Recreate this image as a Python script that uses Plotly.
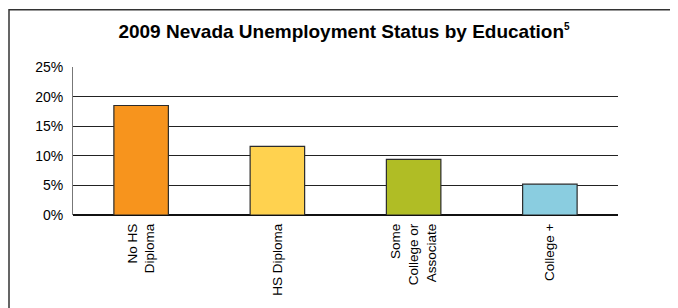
import plotly.graph_objects as go

categories = ["No HS<br>Diploma", "HS Diploma", "Some<br>College or<br>Associate", "College +"]
values = [18.5, 11.6, 9.4, 5.2]
colors = ["#F7941D", "#FFD24F", "#B0BD25", "#8ACDE0"]
tick_vals = [0, 5, 10, 15, 20, 25]
tick_text = ["0%", "5%", "10%", "15%", "20%", "25%"]

W, H = 670, 300
L, R, T, B = 65, 60, 59, 91
pw, ph = W - L - R, H - T - B

fig = go.Figure()
fig.add_trace(go.Bar(
    x=categories, y=values,
    marker=dict(color=colors, line=dict(color="#2b2b2b", width=1.2)),
    width=0.4,
))

fig.update_layout(
    width=W, height=H,
    margin=dict(l=L, r=R, t=T, b=B),
    paper_bgcolor="white", plot_bgcolor="white",
    font=dict(family="Liberation Sans, Arial, sans-serif", color="black"),
    showlegend=False,
    title=dict(
        text="<b>2009 Nevada Unemployment Status by Education<sup><span style='font-size:10px'>5</span></sup></b>",
        x=(344 - 8) / W, xanchor="center", y=1 - (31 - 8) / H, yanchor="middle",
        font=dict(size=19, color="black"),
    ),
    xaxis=dict(
        tickangle=-90, tickfont=dict(size=13.5), showgrid=False,
        showline=False, ticks="", range=[-0.5, 3.5], ticklabelstandoff=5,
    ),
    yaxis=dict(
        range=[0, 25], tickvals=tick_vals, ticktext=tick_text,
        showgrid=True, gridcolor="#222222", gridwidth=1,
        showline=True, linecolor="#777777", linewidth=1,
        ticks="", tickfont=dict(size=14), ticklabelstandoff=6, zeroline=True,
        zerolinecolor="#111111", zerolinewidth=1.5,
    ),
    shapes=[dict(
        type="rect", xref="paper", yref="paper",
        x0=(1 - L) / pw, x1=1.3, y0=-1.0, y1=1 + (T - 1) / ph,
        line=dict(color="#333333", width=1.5), fillcolor="rgba(0,0,0,0)",
        layer="below",
    )],
)

fig.write_html("out.html")
